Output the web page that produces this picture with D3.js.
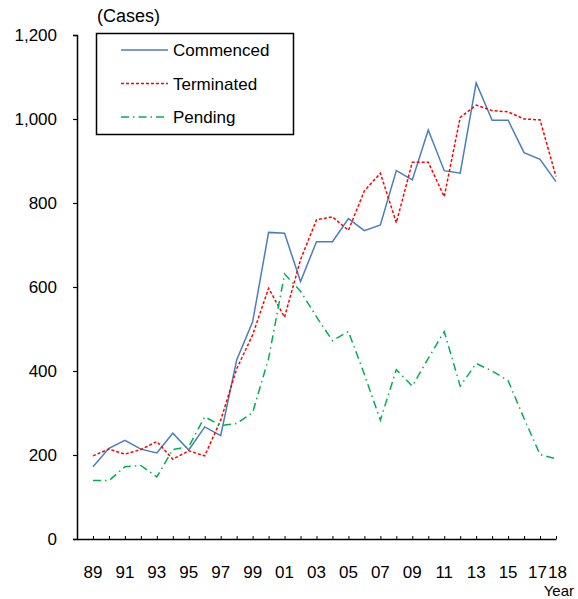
<!DOCTYPE html>
<html>
<head>
<meta charset="utf-8">
<script src="https://cdn.jsdelivr.net/npm/d3@7"></script>
<style>
  html, body { margin: 0; padding: 0; background: #fff; }
  svg { display: block; font-family: "Liberation Sans", Arial, sans-serif; }
</style>
</head>
<body>
<svg id="chart" width="578" height="599"></svg>
<script>
// Caseload by year, 1989–2018
const years = d3.range(1989, 2019);
const commenced = [172, 216, 235, 214, 205, 252, 212, 267, 246, 426, 517, 730, 728, 613, 708, 708, 763, 734, 748, 877, 855, 974, 877, 871, 1086, 997, 997, 920, 904, 851];
const terminated = [198, 214, 202, 213, 232, 190, 210, 198, 283, 405, 486, 597, 528, 665, 760, 767, 735, 829, 871, 753, 897, 897, 815, 1004, 1033, 1020, 1017, 1000, 998, 863];
const pending = [139, 139, 172, 175, 148, 213, 220, 291, 270, 275, 301, 430, 631, 590, 529, 472, 494, 392, 283, 403, 364, 430, 494, 364, 418, 400, 377, 287, 201, 191];
const yTicks = [0, 200, 400, 600, 800, 1000, 1200];
const xLabelYears = [1989, 1991, 1993, 1995, 1997, 1999, 2001, 2003, 2005, 2007, 2009, 2011, 2013, 2015, 2017, 2018];
const seriesNames = ["Commenced", "Terminated", "Pending"];

const series = [
  { name: seriesNames[0], values: commenced, color: "#4a7ebb", dash: null },
  { name: seriesNames[1], values: terminated, color: "#ff0000", dash: "3,2" },
  { name: seriesNames[2], values: pending, color: "#00b050", dash: "8,4,1.5,4" }
];

const svg = d3.select("#chart");
const x = d3.scaleLinear().domain([1988, 2018]).range([77, 556]);
const y = d3.scaleLinear().domain([0, 1200]).range([539, 35]);
const fontSize = 17;

// Y axis
const yAxis = svg.append("g")
  .attr("transform", `translate(${x(1988)},0)`)
  .call(d3.axisLeft(y).tickValues(yTicks).tickSize(4).tickPadding(16)
    .tickFormat(d3.format(",")));
yAxis.select(".domain").attr("stroke", "#000").attr("stroke-width", 1.5);
yAxis.selectAll(".tick line").attr("stroke", "#000").attr("stroke-width", 1.2);
yAxis.selectAll("text").attr("font-size", fontSize).attr("fill", "#000")
  .attr("font-family", "Liberation Sans, Arial, sans-serif");

// X axis: inward ticks at every year
const xAxis = svg.append("g")
  .attr("transform", `translate(0,${y(0)})`)
  .call(d3.axisBottom(x).tickValues(years).tickSizeInner(-3).tickSizeOuter(0)
    .tickFormat(""));
xAxis.select(".domain").attr("stroke", "#000").attr("stroke-width", 1.5);
xAxis.selectAll(".tick line").attr("stroke", "#000").attr("stroke-width", 1);

// X labels (two-digit years); the last two sit side by side
const lastTwo = xLabelYears.slice(-2);
svg.append("g").selectAll("text")
  .data(xLabelYears)
  .join("text")
  .attr("x", d => d === lastTwo[0] ? x(d) + 7 : d === lastTwo[1] ? x(d) - 8 : x(d))
  .attr("y", 578)
  .attr("text-anchor", d => d === lastTwo[0] ? "end" : d === lastTwo[1] ? "start" : "middle")
  .attr("font-size", fontSize)
  .attr("fill", "#000")
  .text(d => String(d % 100).padStart(2, "0"));

svg.append("text")
  .attr("x", 574).attr("y", 595.8)
  .attr("text-anchor", "end")
  .attr("font-size", 15)
  .text("Year");

svg.append("text")
  .attr("x", 97).attr("y", 22)
  .attr("font-size", 18)
  .text("(Cases)");

// Lines
const line = d3.line()
  .x((d, i) => x(years[i]))
  .y(d => y(d));

svg.append("g").selectAll("path")
  .data(series)
  .join("path")
  .attr("d", s => line(s.values))
  .attr("fill", "none")
  .attr("stroke", s => s.color)
  .attr("stroke-width", 1.5)
  .attr("stroke-dasharray", s => s.dash)
  .attr("stroke-linejoin", "miter");

// Legend
const legend = svg.append("g");
legend.append("rect")
  .attr("x", 96.5).attr("y", 33.5)
  .attr("width", 197).attr("height", 101)
  .attr("fill", "#fff")
  .attr("stroke", "#000")
  .attr("stroke-width", 1.5);
const rows = legend.selectAll("g.row")
  .data(series)
  .join("g")
  .attr("class", "row")
  .attr("transform", (d, i) => `translate(0,${50 + i * 33.5})`);
rows.append("line")
  .attr("x1", 121).attr("x2", 168)
  .attr("y1", 0).attr("y2", 0)
  .attr("stroke", d => d.color)
  .attr("stroke-width", 1.5)
  .attr("stroke-dasharray", d => d.dash);
rows.append("text")
  .attr("x", 173).attr("y", 6)
  .attr("font-size", fontSize)
  .text(d => d.name);
</script>
</body>
</html>
